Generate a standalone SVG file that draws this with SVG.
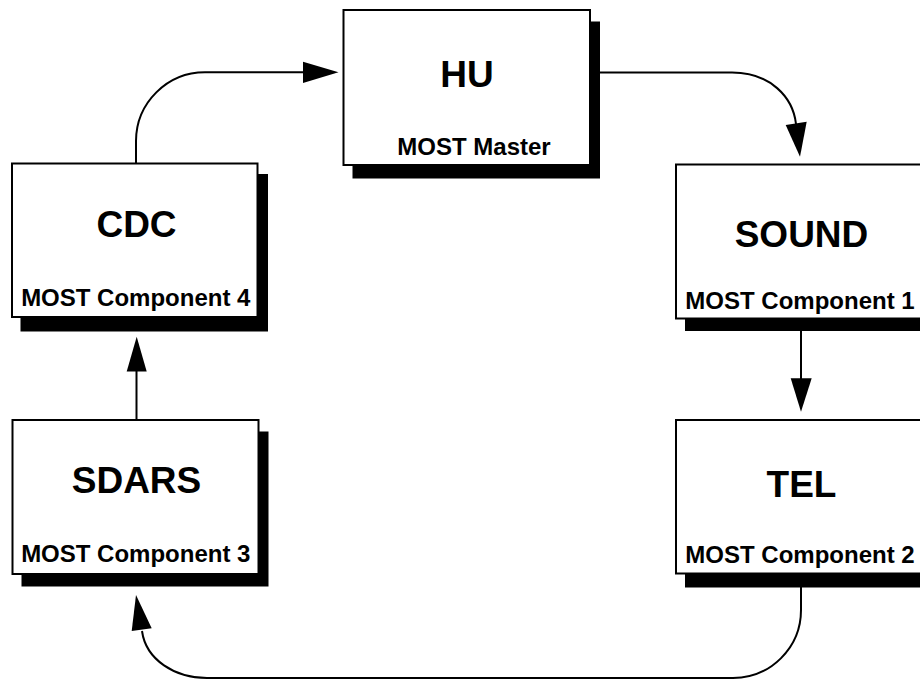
<svg xmlns="http://www.w3.org/2000/svg" width="920" height="681" viewBox="0 0 920 681">
  <style>
    .box { fill: #ffffff; stroke: #000000; stroke-width: 2; }
    .shadow { fill: #000000; }
    .title { font-family: "Liberation Sans", Arial, sans-serif; font-weight: bold; font-size: 37px; fill: #000000; text-anchor: middle; }
    .sub { font-family: "Liberation Sans", Arial, sans-serif; font-weight: bold; font-size: 24px; fill: #000000; text-anchor: middle; }
    .wire { fill: none; stroke: #000000; stroke-width: 2; }
    .head { fill: #000000; stroke: none; }
  </style>

  <rect width="920" height="681" fill="#ffffff"/>

  <!-- ring connectors -->
  <g id="connectors">
    <!-- CDC to HU -->
    <path class="wire" d="M136,163 V141 A69,69 0 0 1 205,72.3 H305"/>
    <polygon class="head" points="303,61.8 338.5,72.3 303,83"/>
    <!-- HU to SOUND -->
    <path class="wire" d="M600,72.5 H732 C770,72.5 793,97 796,124"/>
    <polygon class="head" points="785.7,125 806.7,121.7 800,156.7"/>
    <!-- SOUND to TEL -->
    <path class="wire" d="M801,331 V380"/>
    <polygon class="head" points="790.7,378.3 811.7,378.3 801,411.7"/>
    <!-- TEL to SDARS -->
    <path class="wire" d="M801,587 V610 A68,68 0 0 1 733,678 H207 C175,678 146,660 142,631"/>
    <polygon class="head" points="131.7,631 151.7,628.3 136,595"/>
    <!-- SDARS to CDC -->
    <path class="wire" d="M136.5,420 V371"/>
    <polygon class="head" points="126.7,371.5 146.7,371.5 136.7,336.7"/>
  </g>

  <g id="hu">
    <rect class="shadow" x="352.5" y="21.5" width="247.5" height="157"/>
    <rect class="box" x="343.5" y="10" width="246.5" height="155"/>
    <text class="title" x="467" y="87">HU</text>
    <text class="sub" x="474" y="155">MOST Master</text>
  </g>

  <g id="sound">
    <rect class="shadow" x="685" y="176" width="250" height="155"/>
    <rect class="box" x="676" y="164.5" width="250" height="154"/>
    <text class="title" x="801.5" y="246.7">SOUND</text>
    <text class="sub" x="800" y="309">MOST Component 1</text>
  </g>

  <g id="tel">
    <rect class="shadow" x="685" y="431" width="250" height="156.5"/>
    <rect class="box" x="676" y="420" width="250" height="153.5"/>
    <text class="title" x="801.5" y="496.7">TEL</text>
    <text class="sub" x="800" y="562.7">MOST Component 2</text>
  </g>

  <g id="sdars">
    <rect class="shadow" x="21.5" y="431.5" width="247" height="155"/>
    <rect class="box" x="12.5" y="420" width="246" height="154"/>
    <text class="title" x="136.5" y="493.3">SDARS</text>
    <text class="sub" x="135.8" y="562.3">MOST Component 3</text>
  </g>

  <g id="cdc">
    <rect class="shadow" x="20.5" y="174" width="247.5" height="157.5"/>
    <rect class="box" x="12" y="163.5" width="245.5" height="153.5"/>
    <text class="title" x="136.5" y="237.3">CDC</text>
    <text class="sub" x="135.8" y="305.7">MOST Component 4</text>
  </g>
</svg>
